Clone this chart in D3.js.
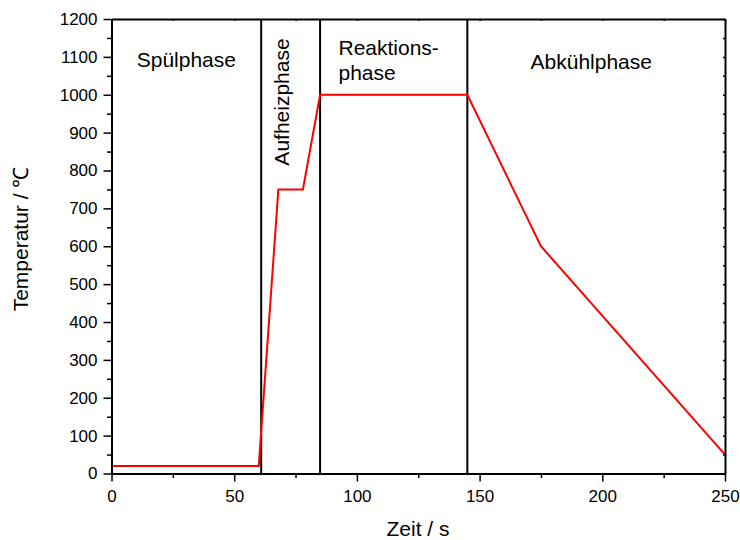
<!DOCTYPE html>
<html>
<head>
<meta charset="utf-8">
<script src="https://cdn.jsdelivr.net/npm/d3@7"></script>
<style>
  body { margin: 0; background: #fff; }
  text { font-family: "Liberation Sans", Arial, sans-serif; fill: #000; }
</style>
</head>
<body>
<svg width="740" height="540"></svg>
<script>
// temperature profile (time in s, temperature in °C)
const zeit = [0, 60, 68, 78, 85, 145, 175, 250];
const temperatur = [20, 20, 750, 750, 1000, 1000, 600, 50];

// phase borders
const grenzen = [61, 85, 145];

const xTicks = [0, 50, 100, 150, 200, 250];
const xMinor = [25, 75, 125, 175, 225];
const yTicks = [0, 100, 200, 300, 400, 500, 600, 700, 800, 900, 1000, 1100, 1200];
const yMinor = [50, 150, 250, 350, 450, 550, 650, 750, 850, 950, 1050, 1150];

const svg = d3.select('svg');
const mLeft = 111.5, mRight = 725, mTop = 19, mBottom = 473.5;

const x = d3.scaleLinear().domain([0, 250]).range([mLeft, mRight]);
const y = d3.scaleLinear().domain([0, 1200]).range([mBottom, mTop]);

// phase separators
svg.append('g')
  .selectAll('line')
  .data(grenzen)
  .enter()
  .append('line')
  .attr('x1', d => x(d)).attr('x2', d => x(d))
  .attr('y1', mTop).attr('y2', mBottom)
  .attr('stroke', '#000')
  .attr('stroke-width', 2);

// red profile
const pts = zeit.map((t, i) => [t, temperatur[i]]);
svg.append('path')
  .datum(pts)
  .attr('fill', 'none')
  .attr('stroke', '#ff0000')
  .attr('stroke-width', 2)
  .attr('d', d3.line().x(d => x(d[0])).y(d => y(d[1])));

// axes: left + bottom with outward ticks
const axisStyle = g => {
  g.select('.domain').attr('stroke-width', 2);
  g.selectAll('.tick line').attr('stroke-width', 1.5);
  g.selectAll('.tick text').style('font-size', '17px').style('font-family', '"Liberation Sans", Arial, sans-serif');
};
const fmt = d3.format('d');

svg.append('g')
  .attr('transform', `translate(0,${mBottom})`)
  .call(d3.axisBottom(x).tickValues(xTicks).tickFormat(fmt).tickSize(8).tickSizeOuter(0).tickPadding(8))
  .call(axisStyle);
svg.append('g')
  .attr('transform', `translate(0,${mBottom})`)
  .call(d3.axisBottom(x).tickValues(xMinor).tickSize(4.5).tickFormat('').tickSizeOuter(0))
  .call(g => g.select('.domain').remove())
  .call(g => g.selectAll('line').attr('stroke-width', 1.5));

svg.append('g')
  .attr('transform', `translate(${mLeft},0)`)
  .call(d3.axisLeft(y).tickValues(yTicks).tickFormat(fmt).tickSize(8).tickSizeOuter(0).tickPadding(6))
  .call(axisStyle);
svg.append('g')
  .attr('transform', `translate(${mLeft},0)`)
  .call(d3.axisLeft(y).tickValues(yMinor).tickSize(4.5).tickFormat('').tickSizeOuter(0))
  .call(g => g.select('.domain').remove())
  .call(g => g.selectAll('line').attr('stroke-width', 1.5));

// top + right with small inward ticks
svg.append('g')
  .attr('transform', `translate(0,${mTop})`)
  .call(d3.axisTop(x).tickValues(xTicks.concat(xMinor)).tickSize(-2).tickFormat('').tickSizeOuter(0))
  .call(g => g.select('.domain').attr('stroke-width', 2))
  .call(g => g.selectAll('line').attr('stroke-width', 1.5));
svg.append('g')
  .attr('transform', `translate(${mRight},0)`)
  .call(d3.axisRight(y).tickValues(yTicks.concat(yMinor)).tickSize(-2).tickFormat('').tickSizeOuter(0))
  .call(g => g.select('.domain').attr('stroke-width', 2))
  .call(g => g.selectAll('line').attr('stroke-width', 1.5));

// phase labels
svg.append('text')
  .attr('x', x(30.5)).attr('y', 67)
  .attr('text-anchor', 'middle')
  .style('font-size', '21px')
  .text('Spülphase');

svg.append('text')
  .attr('transform', `translate(289,102) rotate(-90)`)
  .attr('text-anchor', 'middle')
  .style('font-size', '21px')
  .text('Aufheizphase');

svg.append('text')
  .attr('x', x(92.5)).attr('y', 55)
  .style('font-size', '21px')
  .text('Reaktions-');
svg.append('text')
  .attr('x', x(92.5)).attr('y', 80)
  .style('font-size', '21px')
  .text('phase');

svg.append('text')
  .attr('x', x(195.5)).attr('y', 69)
  .attr('text-anchor', 'middle')
  .style('font-size', '21px')
  .text('Abkühlphase');

// axis titles
svg.append('text')
  .attr('x', 418).attr('y', 536)
  .attr('text-anchor', 'middle')
  .style('font-size', '21px')
  .text('Zeit / s');

svg.append('text')
  .attr('transform', `translate(28,239) rotate(-90)`)
  .attr('text-anchor', 'middle')
  .style('font-size', '21px')
  .text('Temperatur / ℃');
</script>
</body>
</html>
